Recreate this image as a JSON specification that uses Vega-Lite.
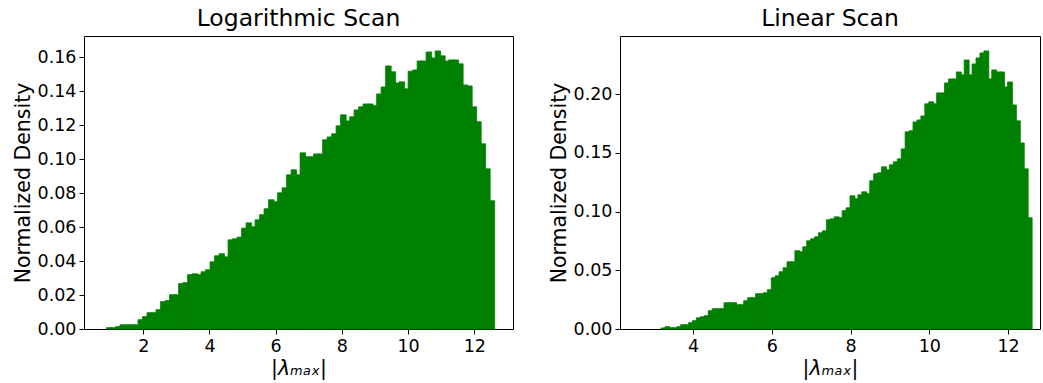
{
  "$schema": "https://vega.github.io/schema/vega-lite/v6.json",
  "background": "white",
  "padding": {"left": 12, "top": 6, "right": 0, "bottom": 0},
  "bounds": "flush",
  "spacing": 107,
  "config": {
    "font": "DejaVu Sans",
    "view": {"stroke": "black", "strokeWidth": 1},
    "axis": {"grid": false, "domain": false, "tickColor": "black", "tickSize": 5, "tickWidth": 1, "labelColor": "black", "labelFontSize": 17.5, "labelFont": "DejaVu Sans", "titleFont": "DejaVu Sans", "titleFontSize": 20.5, "titleFontWeight": "normal", "titleColor": "black", "labelPadding": 3, "titlePadding": 4},
    "title": {"fontSize": 23.5, "fontWeight": "normal", "color": "black", "font": "DejaVu Sans", "offset": 6}
  },
  "datasets": {
    "logscan": [
      {"lo": 0.890, "hi": 1.026, "density": 0.0008},
      {"lo": 1.026, "hi": 1.162, "density": 0.0008},
      {"lo": 1.162, "hi": 1.298, "density": 0.0014},
      {"lo": 1.298, "hi": 1.434, "density": 0.0025},
      {"lo": 1.434, "hi": 1.570, "density": 0.0025},
      {"lo": 1.570, "hi": 1.706, "density": 0.0025},
      {"lo": 1.706, "hi": 1.842, "density": 0.0025},
      {"lo": 1.842, "hi": 1.978, "density": 0.0055},
      {"lo": 1.978, "hi": 2.114, "density": 0.0073},
      {"lo": 2.114, "hi": 2.250, "density": 0.0096},
      {"lo": 2.250, "hi": 2.386, "density": 0.0096},
      {"lo": 2.386, "hi": 2.522, "density": 0.0114},
      {"lo": 2.522, "hi": 2.658, "density": 0.0161},
      {"lo": 2.658, "hi": 2.794, "density": 0.0167},
      {"lo": 2.794, "hi": 2.930, "density": 0.0202},
      {"lo": 2.930, "hi": 3.066, "density": 0.0202},
      {"lo": 3.066, "hi": 3.202, "density": 0.0267},
      {"lo": 3.202, "hi": 3.338, "density": 0.0273},
      {"lo": 3.338, "hi": 3.474, "density": 0.0320},
      {"lo": 3.474, "hi": 3.610, "density": 0.0325},
      {"lo": 3.610, "hi": 3.746, "density": 0.0320},
      {"lo": 3.746, "hi": 3.882, "density": 0.0337},
      {"lo": 3.882, "hi": 4.018, "density": 0.0349},
      {"lo": 4.018, "hi": 4.154, "density": 0.0396},
      {"lo": 4.154, "hi": 4.290, "density": 0.0431},
      {"lo": 4.290, "hi": 4.426, "density": 0.0443},
      {"lo": 4.426, "hi": 4.562, "density": 0.0425},
      {"lo": 4.562, "hi": 4.698, "density": 0.0525},
      {"lo": 4.698, "hi": 4.834, "density": 0.0531},
      {"lo": 4.834, "hi": 4.970, "density": 0.0541},
      {"lo": 4.970, "hi": 5.106, "density": 0.0594},
      {"lo": 5.106, "hi": 5.242, "density": 0.0625},
      {"lo": 5.242, "hi": 5.378, "density": 0.0602},
      {"lo": 5.378, "hi": 5.514, "density": 0.0643},
      {"lo": 5.514, "hi": 5.650, "density": 0.0673},
      {"lo": 5.650, "hi": 5.786, "density": 0.0708},
      {"lo": 5.786, "hi": 5.922, "density": 0.0761},
      {"lo": 5.922, "hi": 6.058, "density": 0.0749},
      {"lo": 6.058, "hi": 6.194, "density": 0.0802},
      {"lo": 6.194, "hi": 6.330, "density": 0.0831},
      {"lo": 6.330, "hi": 6.466, "density": 0.0908},
      {"lo": 6.466, "hi": 6.602, "density": 0.0937},
      {"lo": 6.602, "hi": 6.738, "density": 0.0908},
      {"lo": 6.738, "hi": 6.874, "density": 0.1037},
      {"lo": 6.874, "hi": 7.010, "density": 0.1014},
      {"lo": 7.010, "hi": 7.146, "density": 0.1014},
      {"lo": 7.146, "hi": 7.282, "density": 0.1031},
      {"lo": 7.282, "hi": 7.418, "density": 0.1031},
      {"lo": 7.418, "hi": 7.554, "density": 0.1114},
      {"lo": 7.554, "hi": 7.690, "density": 0.1131},
      {"lo": 7.690, "hi": 7.826, "density": 0.1149},
      {"lo": 7.826, "hi": 7.962, "density": 0.1196},
      {"lo": 7.962, "hi": 8.098, "density": 0.1261},
      {"lo": 8.098, "hi": 8.234, "density": 0.1225},
      {"lo": 8.234, "hi": 8.370, "density": 0.1249},
      {"lo": 8.370, "hi": 8.506, "density": 0.1290},
      {"lo": 8.506, "hi": 8.642, "density": 0.1308},
      {"lo": 8.642, "hi": 8.778, "density": 0.1325},
      {"lo": 8.778, "hi": 8.914, "density": 0.1325},
      {"lo": 8.914, "hi": 9.050, "density": 0.1314},
      {"lo": 9.050, "hi": 9.186, "density": 0.1384},
      {"lo": 9.186, "hi": 9.322, "density": 0.1425},
      {"lo": 9.322, "hi": 9.458, "density": 0.1549},
      {"lo": 9.458, "hi": 9.594, "density": 0.1514},
      {"lo": 9.594, "hi": 9.730, "density": 0.1449},
      {"lo": 9.730, "hi": 9.866, "density": 0.1455},
      {"lo": 9.866, "hi": 10.002, "density": 0.1414},
      {"lo": 10.002, "hi": 10.138, "density": 0.1518},
      {"lo": 10.138, "hi": 10.274, "density": 0.1525},
      {"lo": 10.274, "hi": 10.410, "density": 0.1578},
      {"lo": 10.410, "hi": 10.546, "density": 0.1578},
      {"lo": 10.546, "hi": 10.682, "density": 0.1631},
      {"lo": 10.682, "hi": 10.818, "density": 0.1596},
      {"lo": 10.818, "hi": 10.954, "density": 0.1637},
      {"lo": 10.954, "hi": 11.090, "density": 0.1608},
      {"lo": 11.090, "hi": 11.226, "density": 0.1578},
      {"lo": 11.226, "hi": 11.362, "density": 0.1584},
      {"lo": 11.362, "hi": 11.498, "density": 0.1584},
      {"lo": 11.498, "hi": 11.634, "density": 0.1561},
      {"lo": 11.634, "hi": 11.770, "density": 0.1437},
      {"lo": 11.770, "hi": 11.906, "density": 0.1431},
      {"lo": 11.906, "hi": 12.042, "density": 0.1308},
      {"lo": 12.042, "hi": 12.178, "density": 0.1220},
      {"lo": 12.178, "hi": 12.314, "density": 0.1090},
      {"lo": 12.314, "hi": 12.450, "density": 0.0943},
      {"lo": 12.450, "hi": 12.586, "density": 0.0755}
    ],
    "linscan": [
      {"lo": 3.185, "hi": 3.285, "density": 0.0009},
      {"lo": 3.285, "hi": 3.385, "density": 0.0020},
      {"lo": 3.385, "hi": 3.485, "density": 0.0011},
      {"lo": 3.485, "hi": 3.585, "density": 0.0011},
      {"lo": 3.585, "hi": 3.685, "density": 0.0020},
      {"lo": 3.685, "hi": 3.785, "density": 0.0037},
      {"lo": 3.785, "hi": 3.885, "density": 0.0037},
      {"lo": 3.885, "hi": 3.985, "density": 0.0054},
      {"lo": 3.985, "hi": 4.085, "density": 0.0071},
      {"lo": 4.085, "hi": 4.185, "density": 0.0096},
      {"lo": 4.185, "hi": 4.285, "density": 0.0105},
      {"lo": 4.285, "hi": 4.385, "density": 0.0114},
      {"lo": 4.385, "hi": 4.485, "density": 0.0156},
      {"lo": 4.485, "hi": 4.585, "density": 0.0173},
      {"lo": 4.585, "hi": 4.685, "density": 0.0173},
      {"lo": 4.685, "hi": 4.785, "density": 0.0173},
      {"lo": 4.785, "hi": 4.885, "density": 0.0224},
      {"lo": 4.885, "hi": 4.985, "density": 0.0224},
      {"lo": 4.985, "hi": 5.085, "density": 0.0224},
      {"lo": 5.085, "hi": 5.185, "density": 0.0207},
      {"lo": 5.185, "hi": 5.285, "density": 0.0207},
      {"lo": 5.285, "hi": 5.385, "density": 0.0241},
      {"lo": 5.385, "hi": 5.485, "density": 0.0267},
      {"lo": 5.485, "hi": 5.585, "density": 0.0267},
      {"lo": 5.585, "hi": 5.685, "density": 0.0301},
      {"lo": 5.685, "hi": 5.785, "density": 0.0301},
      {"lo": 5.785, "hi": 5.885, "density": 0.0309},
      {"lo": 5.885, "hi": 5.985, "density": 0.0335},
      {"lo": 5.985, "hi": 6.085, "density": 0.0437},
      {"lo": 6.085, "hi": 6.185, "density": 0.0454},
      {"lo": 6.185, "hi": 6.285, "density": 0.0488},
      {"lo": 6.285, "hi": 6.385, "density": 0.0522},
      {"lo": 6.385, "hi": 6.485, "density": 0.0573},
      {"lo": 6.485, "hi": 6.585, "density": 0.0573},
      {"lo": 6.585, "hi": 6.685, "density": 0.0667},
      {"lo": 6.685, "hi": 6.785, "density": 0.0658},
      {"lo": 6.785, "hi": 6.885, "density": 0.0701},
      {"lo": 6.885, "hi": 6.985, "density": 0.0752},
      {"lo": 6.985, "hi": 7.085, "density": 0.0769},
      {"lo": 7.085, "hi": 7.185, "density": 0.0786},
      {"lo": 7.185, "hi": 7.285, "density": 0.0820},
      {"lo": 7.285, "hi": 7.385, "density": 0.0837},
      {"lo": 7.385, "hi": 7.485, "density": 0.0931},
      {"lo": 7.485, "hi": 7.585, "density": 0.0939},
      {"lo": 7.585, "hi": 7.685, "density": 0.0956},
      {"lo": 7.685, "hi": 7.785, "density": 0.0948},
      {"lo": 7.785, "hi": 7.885, "density": 0.1008},
      {"lo": 7.885, "hi": 7.985, "density": 0.1033},
      {"lo": 7.985, "hi": 8.085, "density": 0.1135},
      {"lo": 8.085, "hi": 8.185, "density": 0.1110},
      {"lo": 8.185, "hi": 8.285, "density": 0.1144},
      {"lo": 8.285, "hi": 8.385, "density": 0.1169},
      {"lo": 8.385, "hi": 8.485, "density": 0.1152},
      {"lo": 8.485, "hi": 8.585, "density": 0.1263},
      {"lo": 8.585, "hi": 8.685, "density": 0.1323},
      {"lo": 8.685, "hi": 8.785, "density": 0.1331},
      {"lo": 8.785, "hi": 8.885, "density": 0.1382},
      {"lo": 8.885, "hi": 8.985, "density": 0.1357},
      {"lo": 8.985, "hi": 9.085, "density": 0.1399},
      {"lo": 9.085, "hi": 9.185, "density": 0.1425},
      {"lo": 9.185, "hi": 9.285, "density": 0.1450},
      {"lo": 9.285, "hi": 9.385, "density": 0.1535},
      {"lo": 9.385, "hi": 9.485, "density": 0.1680},
      {"lo": 9.485, "hi": 9.585, "density": 0.1689},
      {"lo": 9.585, "hi": 9.685, "density": 0.1765},
      {"lo": 9.685, "hi": 9.785, "density": 0.1782},
      {"lo": 9.785, "hi": 9.885, "density": 0.1816},
      {"lo": 9.885, "hi": 9.985, "density": 0.1919},
      {"lo": 9.985, "hi": 10.085, "density": 0.1936},
      {"lo": 10.085, "hi": 10.185, "density": 0.1919},
      {"lo": 10.185, "hi": 10.285, "density": 0.2012},
      {"lo": 10.285, "hi": 10.385, "density": 0.2012},
      {"lo": 10.385, "hi": 10.485, "density": 0.2097},
      {"lo": 10.485, "hi": 10.585, "density": 0.2131},
      {"lo": 10.585, "hi": 10.685, "density": 0.2131},
      {"lo": 10.685, "hi": 10.785, "density": 0.2191},
      {"lo": 10.785, "hi": 10.885, "density": 0.2166},
      {"lo": 10.885, "hi": 10.985, "density": 0.2293},
      {"lo": 10.985, "hi": 11.085, "density": 0.2166},
      {"lo": 11.085, "hi": 11.185, "density": 0.2259},
      {"lo": 11.185, "hi": 11.285, "density": 0.2310},
      {"lo": 11.285, "hi": 11.385, "density": 0.2353},
      {"lo": 11.385, "hi": 11.485, "density": 0.2370},
      {"lo": 11.485, "hi": 11.585, "density": 0.2131},
      {"lo": 11.585, "hi": 11.685, "density": 0.2208},
      {"lo": 11.685, "hi": 11.785, "density": 0.2191},
      {"lo": 11.785, "hi": 11.885, "density": 0.2191},
      {"lo": 11.885, "hi": 11.985, "density": 0.2063},
      {"lo": 11.985, "hi": 12.085, "density": 0.2106},
      {"lo": 12.085, "hi": 12.185, "density": 0.1910},
      {"lo": 12.185, "hi": 12.285, "density": 0.1774},
      {"lo": 12.285, "hi": 12.385, "density": 0.1586},
      {"lo": 12.385, "hi": 12.485, "density": 0.1365},
      {"lo": 12.485, "hi": 12.585, "density": 0.0948}
    ]
  },
  "hconcat": [
    {
      "title": "Logarithmic Scan",
      "width": 429,
      "height": 293,
      "data": {"name": "logscan"},
      "mark": {"type": "rect", "color": "#008000", "opacity": 1, "stroke": "#008000", "strokeWidth": 0.8, "x2Offset": 1},
      "encoding": {
        "x": {"field": "lo", "type": "quantitative", "scale": {"domain": [0.21, 13.17], "nice": false, "zero": false}, "axis": {"values": [2, 4, 6, 8, 10, 12], "format": "d", "title": "|λₘₐₓ|", "titleFontStyle": "italic"}},
        "x2": {"field": "hi"},
        "y": {"field": "density", "type": "quantitative", "scale": {"domain": [0, 0.1725], "nice": false}, "axis": {"values": [0, 0.02, 0.04, 0.06, 0.08, 0.1, 0.12, 0.14, 0.16], "format": ".2f", "title": "Normalized Density"}},
        "y2": {"datum": 0}
      }
    },
    {
      "title": "Linear Scan",
      "width": 420,
      "height": 293,
      "data": {"name": "linscan"},
      "mark": {"type": "rect", "color": "#008000", "opacity": 1, "stroke": "#008000", "strokeWidth": 0.8, "x2Offset": 1},
      "encoding": {
        "x": {"field": "lo", "type": "quantitative", "scale": {"domain": [2.144, 12.81], "nice": false, "zero": false}, "axis": {"values": [4, 6, 8, 10, 12], "format": "d", "title": "|λₘₐₓ|", "titleFontStyle": "italic"}},
        "x2": {"field": "hi"},
        "y": {"field": "density", "type": "quantitative", "scale": {"domain": [0, 0.2497], "nice": false}, "axis": {"values": [0, 0.05, 0.1, 0.15, 0.2], "format": ".2f", "title": "Normalized Density"}},
        "y2": {"datum": 0}
      }
    }
  ]
}
